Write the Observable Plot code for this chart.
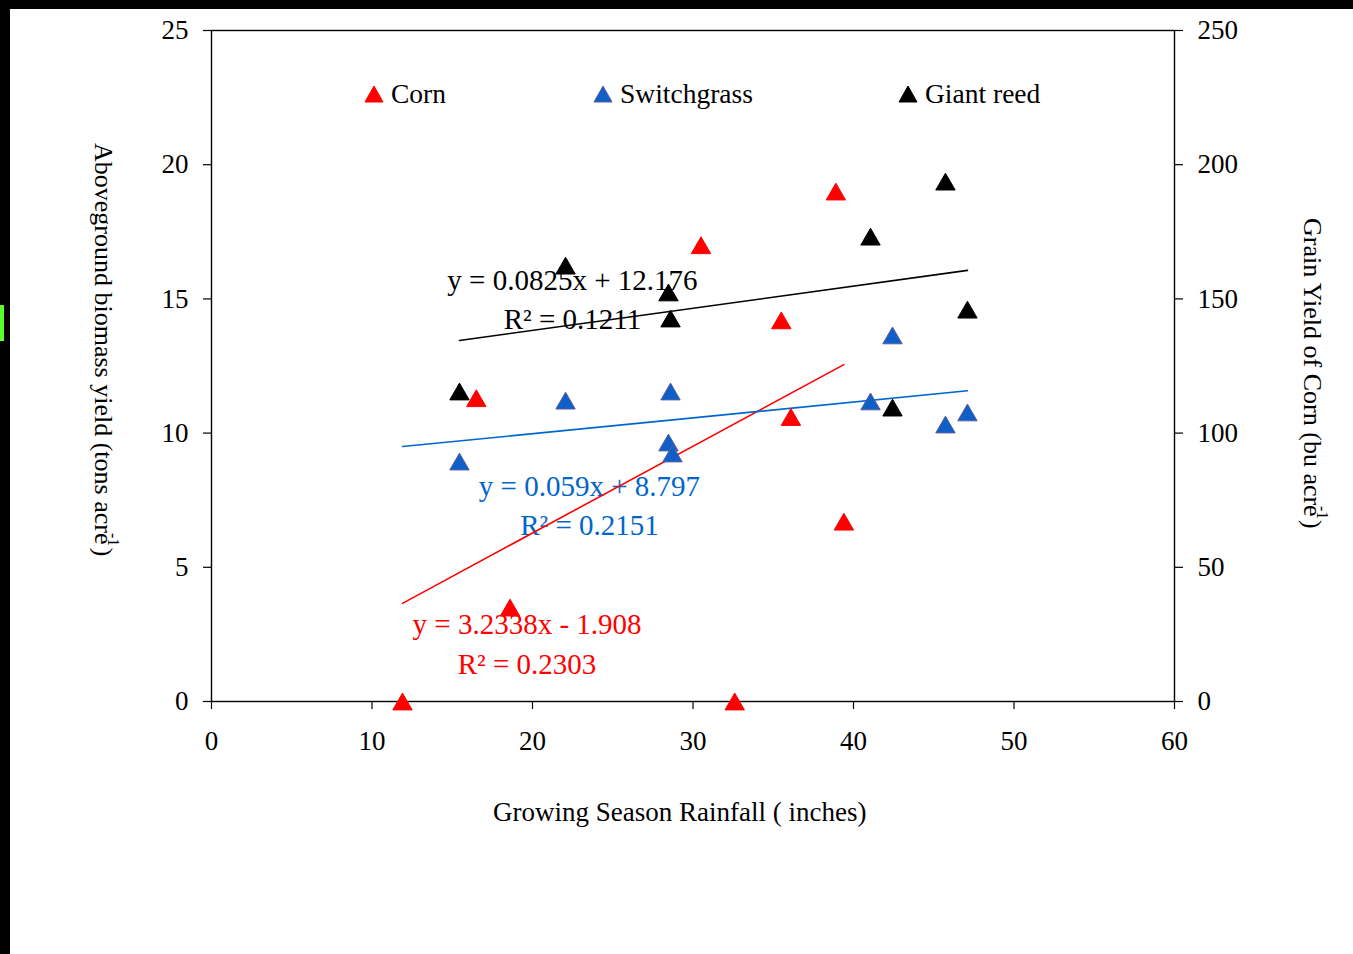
<!DOCTYPE html>
<html>
<head>
<meta charset="utf-8">
<script src="https://cdn.jsdelivr.net/npm/d3@7"></script>
<script src="https://cdn.jsdelivr.net/npm/@observablehq/plot@0.6"></script>
<style>
  html, body { margin: 0; padding: 0; background: #000; width: 1353px; height: 954px; overflow: hidden; }
  #paper { position: absolute; left: 10px; top: 9px; width: 1343px; height: 945px; background: #fff; }
  #mark { position: absolute; left: 0; top: 305px; width: 4px; height: 36px; background: #5cff2e; }
  #chart { position: absolute; left: 0; top: 0; }
  .t { position: absolute; font-family: "Liberation Serif", "Times New Roman", serif; font-size: 27px; color: #000; white-space: nowrap; line-height: 30px; }
  .v { writing-mode: vertical-rl; font-size: 26px; }
  .sup { font-size: 16px; vertical-align: 10px; margin-inline-start: -11px; margin-inline-end: 1px; }
  .leg { position: absolute; display: flex; align-items: center; height: 30px; font-family: "Liberation Serif", serif; font-size: 27.5px; white-space: nowrap; }
  .leg svg { margin-right: 7px; }
</style>
</head>
<body>
<div id="paper"></div>
<div id="mark"></div>
<div id="chart"></div>
<div class="t" style="left:493px; top:797px;">Growing Season Rainfall ( inches)</div>
<div class="t v" style="left:88px; top:143px;">Aboveground biomass yield (tons acre<span class="sup">-1</span>)</div>
<div class="t v" style="left:1297px; top:218px;">Grain Yield of Corn (bu acre<span class="sup">-1</span>)</div>
<div id="legend"></div>
<script>
// ---- data ----
const xTicks = [0, 10, 20, 30, 40, 50, 60];
const yTicks = [0, 5, 10, 15, 20, 25];              // biomass, tons/acre (left axis)
const yTicksRight = [0, 50, 100, 150, 200, 250];     // corn grain, bu/acre (right axis)

const series = ["Corn", "Switchgrass", "Giant reed"];

// Corn grain yield (bu/acre, right axis)
const rainCorn  = [11.9, 16.5, 18.6, 30.5, 32.6, 35.5, 36.1, 38.9, 39.4];
const yieldCorn = [0, 113, 35, 170, 0, 142, 106, 190, 67];

// Switchgrass biomass (tons/acre)
const rainSwitch  = [15.45, 22.06, 28.47, 28.72, 28.6, 41.06, 42.43, 45.73, 47.1];
const yieldSwitch = [8.94, 11.21, 9.65, 9.24, 11.55, 11.18, 13.64, 10.32, 10.77];

// Giant reed biomass (tons/acre)
const rainReed  = [15.45, 22.06, 28.47, 28.6, 41.06, 42.43, 45.73, 47.1];
const yieldReed = [11.55, 16.24, 15.24, 14.27, 17.32, 10.95, 19.37, 14.6];

// Linear trend lines (as printed)
const trendSlope     = [3.2338, 0.059, 0.0825];
const trendIntercept = [-1.908, 8.797, 12.176];
const trendR2        = ["0.2303", "0.2151", "0.1211"];
const trendFrom      = [11.9, 11.9, 15.45];
const trendTo        = [39.4, 47.1, 47.1];

// ---- layout / style ----
const colors = { "Corn": "#ff0000", "Switchgrass": "#0066cc", "Giant reed": "#000000" };
const dotFill = { "Corn": "#ff0000", "Switchgrass": "#0f5fc8", "Giant reed": "#000000" };
const dotStroke = { "Corn": "#ff0000", "Switchgrass": "#5c5c9c", "Giant reed": "#000000" };
// equation label anchors (data units of left axis)
const labelAt = {
  "Corn":        { x: 19.66, y1: 2.87, y2: 1.38 },
  "Switchgrass": { x: 23.55, y1: 8.01, y2: 6.56 },
  "Giant reed":  { x: 22.49, y1: 15.69, y2: 14.23 }
};
const legendPos = [
  { name: "Corn", left: 364 },
  { name: "Switchgrass", left: 593 },
  { name: "Giant reed", left: 898 }
];

// ---- build tables ----
const corn = rainCorn.map((x, i) => ({ x, y: yieldCorn[i] / 10 }));           // bu -> left-axis units
const sw   = rainSwitch.map((x, i) => ({ x, y: yieldSwitch[i] }));
const reed = rainReed.map((x, i) => ({ x, y: yieldReed[i] }));
const pts = { "Corn": corn, "Switchgrass": sw, "Giant reed": reed };

const trends = series.map((s, i) => {
  const scale = s === "Corn" ? 10 : 1;
  return [trendFrom[i], trendTo[i]].map(x => ({ x, y: (trendSlope[i] * x + trendIntercept[i]) / scale, s }));
});

const fmtEq = i => {
  const b = trendIntercept[i];
  return `y = ${trendSlope[i]}x ${b < 0 ? "-" : "+"} ${Math.abs(b)}`;
};
const labels = series.flatMap((s, i) => [
  { x: labelAt[s].x, y: labelAt[s].y1, text: fmtEq(i), s },
  { x: labelAt[s].x, y: labelAt[s].y2, text: `R² = ${trendR2[i]}`, s }
]);

const font = "Liberation Serif, Times New Roman, serif";

const chart = Plot.plot({
  width: 1353,
  height: 954,
  marginLeft: 211,
  marginRight: 179,
  marginTop: 30,
  marginBottom: 253,
  style: { background: "transparent", fontFamily: font, fontSize: "27px", color: "#000" },
  x: { domain: [0, 60] },
  y: { domain: [0, 25] },
  marks: [
    Plot.axisX({ ticks: xTicks, tickSize: 8, tickPadding: 21, label: null, fontSize: 27, strokeWidth: 1.2 }),
    Plot.axisY({ ticks: yTicks, tickSize: 8, tickPadding: 15, label: null, fontSize: 27, strokeWidth: 1.2 }),
    Plot.axisY({ anchor: "right", ticks: yTicks, tickFormat: d => String(yTicksRight[yTicks.indexOf(d)]), tickSize: 8, tickPadding: 15, label: null, fontSize: 27, strokeWidth: 1.2 }),
    Plot.frame({ stroke: "#000", strokeWidth: 1.4 }),
    Plot.text(labels, { x: "x", y: "y", text: "text", fill: d => colors[d.s], fontSize: 29, fontFamily: font, textAnchor: "middle" }),
    ...trends.map((t, i) => Plot.line(t, { x: "x", y: "y", stroke: colors[series[i]], strokeWidth: 1.6 })),
    ...series.map(s => Plot.dot(pts[s], { x: "x", y: "y", symbol: "triangle", r: 7.2, dy: 2.8, fill: dotFill[s], stroke: dotStroke[s], strokeWidth: 1 }))
  ]
});
document.getElementById("chart").appendChild(chart);

// legend
const leg = document.getElementById("legend");
legendPos.forEach(({ name, left }) => {
  const d = document.createElement("div");
  d.className = "leg";
  d.style.left = left + "px";
  d.style.top = (94 - 15) + "px";
  d.innerHTML = `<svg width="20" height="18" viewBox="0 0 20 18"><path d="M10,1 L19,17 L1,17 Z" fill="${dotFill[name]}" stroke="${dotStroke[name]}" stroke-width="1"/></svg><span>${name}</span>`;
  leg.appendChild(d);
});
</script>
</body>
</html>
